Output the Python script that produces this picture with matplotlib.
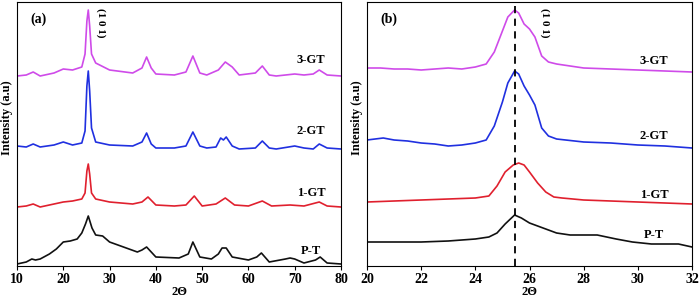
import matplotlib
matplotlib.use("Agg")
import matplotlib.pyplot as plt

plt.rcParams['font.family'] = ['Liberation Serif', 'DejaVu Serif']
plt.rcParams['font.weight'] = 'bold'

# panel (a): wide scan, intensities in arbitrary units (stacked)
a_x_3gt = [10, 12, 13.5, 15, 18, 20, 22, 24, 24.7, 25.1, 25.4, 25.7, 26.1, 27, 30, 35, 37, 38, 39, 40, 44, 46.5, 48, 49.5, 51, 53.5, 55, 56.5, 58, 61.5, 63, 64.5, 66, 70, 72, 74, 75.3, 77, 80]
a_y_3gt = [190, 191, 194, 190, 193, 197, 196, 199, 212, 245, 256, 240, 212, 203, 196, 193, 198, 209, 198, 192, 191, 194, 210, 193, 191, 196, 204, 199, 191, 193, 200, 191, 190, 192, 191, 192, 196, 191, 190]
a_x_2gt = [10, 12, 13.5, 15, 18, 20, 22, 24, 24.7, 25.1, 25.4, 25.7, 26.1, 27, 30, 35, 37, 38, 39, 40, 44, 46.5, 48, 49.5, 51, 53, 54, 54.6, 55.2, 56.5, 58, 61.5, 63, 64.5, 66, 70, 72, 74, 75.3, 77, 80]
a_y_2gt = [120, 119, 122, 119, 121, 124, 121, 123, 135, 180, 195, 175, 138, 124, 121, 120, 124, 133, 122, 118, 118, 120, 134, 120, 118, 119, 128, 126, 129, 120, 117, 118, 125, 118, 117, 120, 118, 117, 122, 118, 117]
a_x_1gt = [10, 12, 13.5, 15, 18, 20, 22, 24, 24.7, 25.1, 25.4, 25.7, 26.1, 27, 30, 35, 37, 38.3, 40, 44, 46.5, 48.3, 50, 53, 55, 57, 60, 63, 65, 69, 72, 75.3, 77, 80]
a_y_1gt = [59, 60, 62, 59, 62, 64, 65, 67, 73, 95, 102, 92, 73, 67, 64, 62, 64, 69, 61, 60, 61, 70, 60, 62, 68, 61, 60, 65, 60, 61, 60, 64, 60, 59]
a_x_pt = [10, 12, 13.2, 14, 15, 17, 18.5, 20, 21.5, 23, 24, 24.8, 25.4, 26.2, 27, 28.5, 30, 33, 36, 37, 38, 39, 40, 45, 47, 48, 49.5, 52, 53.5, 54.3, 55.2, 56.5, 60, 61.8, 62.8, 64.5, 68, 69, 70, 72, 74.5, 75.5, 77, 80]
a_y_pt = [2, 4, 7, 6, 7, 12, 17, 24, 25, 27, 33, 42, 50, 38, 31, 30, 24, 19, 14, 16, 19, 14, 9, 8, 12, 24, 9, 7, 12, 18, 18, 9, 6, 9, 13, 4, 7, 8, 7, 3, 6, 9, 3, 2]

# panel (b): zoom on the (1 0 1) reflection
b_x_3gt = [20, 20.5, 21, 21.5, 22, 22.5, 23, 23.5, 24, 24.4, 24.7, 25.0, 25.2, 25.45, 25.6, 25.8, 26.0, 26.2, 26.45, 26.7, 27, 28, 29, 30, 31, 32]
b_y_3gt = [198, 198, 197, 197, 196, 197, 198, 197, 199, 202, 214, 235, 249, 256, 253, 242, 237, 229, 210, 204, 202, 198, 197, 196, 195, 194]
b_x_2gt = [20, 20.6, 21, 21.5, 22, 22.5, 23, 23.5, 24, 24.4, 24.7, 25.0, 25.2, 25.45, 25.6, 25.8, 26.0, 26.2, 26.45, 26.7, 27, 28, 29, 30, 31, 32]
b_y_2gt = [126, 128, 126, 125, 123, 122, 120, 121, 123, 126, 140, 164, 183, 195, 192, 180, 171, 161, 138, 130, 127, 124, 123, 121, 120, 118]
b_x_1gt = [20, 21, 22, 23, 24, 24.5, 24.8, 25.1, 25.4, 25.6, 25.8, 26.0, 26.3, 26.6, 26.9, 27.2, 28, 29, 30, 31, 32]
b_y_1gt = [64, 65, 66, 67, 68, 70, 80, 94, 101, 103, 101, 94, 83, 74, 69, 68, 66, 65, 64, 63, 62]
b_x_pt = [20, 21, 22, 23, 24, 24.5, 24.8, 25.1, 25.45, 25.7, 26.0, 26.5, 27, 27.5, 28.5, 29.2, 29.8, 30.5, 31.5, 32]
b_y_pt = [24, 24, 24, 25, 27, 29, 33, 42, 51, 48, 43, 38, 33, 31, 31, 27, 24, 22, 22, 19]

colors = {'3-GT': '#cf4be9', '2-GT': '#2030e0', '1-GT': '#e0202e', 'P-T': '#111111'}
peak_pos = 25.45

fig = plt.figure(figsize=(7.0, 3.01), dpi=100)
ax1 = fig.add_axes([17 / 700, 35 / 301, 324 / 700, 264 / 301])
ax2 = fig.add_axes([367 / 700, 35 / 301, 325 / 700, 264 / 301])

ax1.plot(a_x_3gt, a_y_3gt, color=colors['3-GT'], lw=1.2)
ax1.plot(a_x_2gt, a_y_2gt, color=colors['2-GT'], lw=1.2)
ax1.plot(a_x_1gt, a_y_1gt, color=colors['1-GT'], lw=1.2)
ax1.plot(a_x_pt, a_y_pt, color=colors['P-T'], lw=1.2)

ax2.plot(b_x_3gt, b_y_3gt, color=colors['3-GT'], lw=1.2)
ax2.plot(b_x_2gt, b_y_2gt, color=colors['2-GT'], lw=1.2)
ax2.plot(b_x_1gt, b_y_1gt, color=colors['1-GT'], lw=1.2)
ax2.plot(b_x_pt, b_y_pt, color=colors['P-T'], lw=1.2)
ax2.axvline(peak_pos, color='black', ls=(0, (4, 3)), lw=1.3)

ax1.set_xlim(10, 80)
ax2.set_xlim(20, 32)
ax1.set_xticks([10, 20, 30, 40, 50, 60, 70, 80])
ax2.set_xticks([20, 22, 24, 26, 28, 30, 32])
for ax in (ax1, ax2):
    ax.set_ylim(0, 264)
    ax.set_yticks([])
    ax.tick_params(axis='x', direction='out', length=3, width=0.8, labelsize=10, pad=2)
    for lab in ax.get_xticklabels():
        lab.set_fontweight('bold')
    for sp in ax.spines.values():
        sp.set_linewidth(0.8)
    ax.set_xlabel('2\u0398', fontsize=9, fontweight='bold', labelpad=0)
    ax.set_ylabel('Intensity (a.u)', fontsize=9, fontweight='bold', labelpad=2)
    ax.yaxis.set_label_coords(-0.012, 0.56)

# curve labels
ax1.text(73.5, 203, '3-GT', fontsize=9, fontweight='bold', ha='center')
ax1.text(73.5, 132, '2-GT', fontsize=9, fontweight='bold', ha='center')
ax1.text(73.5, 70, '1-GT', fontsize=9, fontweight='bold', ha='center')
ax1.text(73.5, 12, 'P-T', fontsize=9, fontweight='bold', ha='center')
ax1.text(28.0, 258, '(1 0 1)', fontsize=8, fontweight='bold', rotation=270, ha='center', va='top')
ax1.text(0.04, 0.96, '(a)', transform=ax1.transAxes, fontsize=10, fontweight='bold', va='top')

ax2.text(30.6, 202, '3-GT', fontsize=9, fontweight='bold', ha='center')
ax2.text(30.6, 127, '2-GT', fontsize=9, fontweight='bold', ha='center')
ax2.text(30.6, 68, '1-GT', fontsize=9, fontweight='bold', ha='center')
ax2.text(30.6, 28, 'P-T', fontsize=9, fontweight='bold', ha='center')
ax2.text(26.55, 258, '(1 0 1)', fontsize=8, fontweight='bold', rotation=270, ha='center', va='top')
ax2.text(0.04, 0.96, '(b)', transform=ax2.transAxes, fontsize=10, fontweight='bold', va='top')

fig.savefig('out.png', dpi=100)
